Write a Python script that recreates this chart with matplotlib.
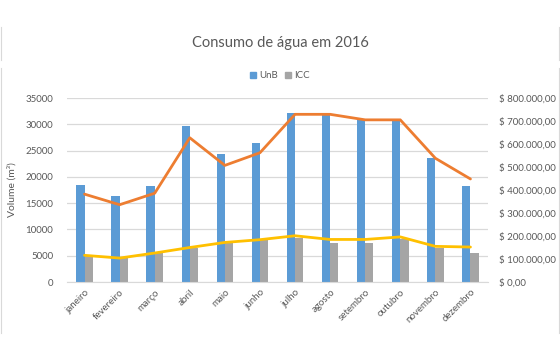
import matplotlib
matplotlib.use("Agg")
import matplotlib.pyplot as plt
from matplotlib.lines import Line2D
import numpy as np

plt.rcParams['font.family'] = ['Lato', 'DejaVu Sans']

meses = ['janeiro', 'fevereiro', 'março', 'abril', 'maio', 'junho',
         'julho', 'agosto', 'setembro', 'outubro', 'novembro', 'dezembro']
volume_unb = [18500, 16300, 18200, 29600, 24400, 26500,
              32100, 31900, 30900, 30700, 23600, 18200]
volume_icc = [5000, 4500, 5500, 6500, 7400, 7900,
              8300, 7500, 7500, 8100, 6400, 5600]
custo_unb = [382000, 336000, 386000, 627000, 507000, 562000,
             729000, 729000, 705000, 705000, 538000, 448000]
custo_icc = [116000, 104000, 126000, 150000, 172000, 184000,
             201000, 185000, 185000, 196000, 155000, 152000]
custo_ticks = list(range(0, 800001, 100000))
custo_labels = ['$ 0,00'] + ['$ %d.000,00' % (v // 1000) for v in custo_ticks[1:]]

txt = '#595959'
grid = '#d9d9d9'

fig = plt.figure(figsize=(5.6, 3.6), dpi=100)
ax = fig.add_axes([67 / 560, 1 - 282 / 360, 421 / 560, 184 / 360])
ax2 = ax.twinx()

x = np.arange(len(meses))
w = 0.235
ax.bar(x - w / 2, volume_unb, w, color='#5B9BD5', label='UnB', zorder=2)
ax.bar(x + w / 2, volume_icc, w, color='#A5A5A5', label='ICC', zorder=2)

ax2.plot(x, custo_unb, color='#ED7D31', lw=2.0, solid_capstyle='round')
ax2.plot(x, custo_icc, color='#FFC000', lw=2.0, solid_capstyle='round')

ax.set_xlim(-0.5, len(meses) - 0.5)
ax.set_ylim(0, 35000)
ax.set_yticks(range(0, 35001, 5000))
ax2.set_ylim(0, 800000)
ax2.set_yticks(custo_ticks)
ax2.set_yticklabels(custo_labels)

ax.yaxis.grid(True, color=grid, lw=0.9, zorder=0)
ax.set_axisbelow(True)
for a in (ax, ax2):
    for s in a.spines.values():
        s.set_visible(False)
    a.tick_params(length=0, labelsize=7, colors=txt)
ax.spines['bottom'].set_visible(True)
ax.spines['bottom'].set_color(grid)
ax.tick_params(axis='y', pad=10)
ax2.tick_params(axis='y', pad=8)

ax.set_xticks(x)
ax.set_xticklabels(meses, rotation=45, ha='right', rotation_mode='anchor')
ax.tick_params(axis='x', pad=4)

ax.set_ylabel('Volume (m³)', fontsize=7.5, color=txt, labelpad=6)

fig.text(0.5, 1 - 43 / 360, 'Consumo de água em 2016', ha='center', va='center',
         fontsize=10.5, color=txt)

handles = [Line2D([], [], marker='s', ls='', color='#5B9BD5', markersize=4.5),
           Line2D([], [], marker='s', ls='', color='#A5A5A5', markersize=4.5)]
fig.legend(handles, ['UnB', 'ICC'], loc='center', bbox_to_anchor=(0.5, 1 - 76 / 360),
           ncol=2, frameon=False, fontsize=7, labelcolor=txt,
           handlelength=0.6, handletextpad=0.3, columnspacing=0.8)

# moldura cinza
for xf in (0.5 / 560, 559 / 560):
    fig.add_artist(Line2D([xf, xf], [1 - 27 / 360, 1 - 60 / 360], color=grid, lw=0.8))
    fig.add_artist(Line2D([xf, xf], [1 - 68 / 360, 1 - 333 / 360], color=grid, lw=0.8))

fig.savefig('out.png', dpi=100)
